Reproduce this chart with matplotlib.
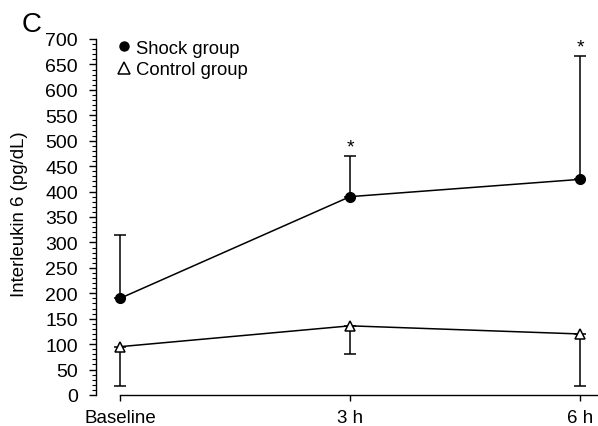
import matplotlib
matplotlib.use("Agg")
import matplotlib.pyplot as plt
from matplotlib.ticker import MultipleLocator
from matplotlib.lines import Line2D

plt.rcParams['font.family'] = ['Liberation Sans', 'DejaVu Sans']

categories = ["Baseline", "3 h", "6 h"]
shock_mean = [190, 390, 424]
shock_err_up = [125, 79, 242]
control_mean = [95, 136, 120]
control_err_down = [77, 55, 103]
significant = ["", "*", "*"]

fig = plt.figure(figsize=(5.98, 4.27), dpi=100)
ax = fig.add_axes([96/598, 1-396/427, 1-96/598, 356/427])

x = list(range(len(categories)))
ax.errorbar(x, shock_mean, yerr=[[0]*3, shock_err_up], color='black', lw=1.1,
            marker='o', ms=7, mfc='black', mec='black', capsize=4, elinewidth=1.1,
            capthick=1.1, zorder=3)
ax.errorbar(x, control_mean, yerr=[control_err_down, [0]*3], color='black', lw=1.1,
            marker='^', ms=7.5, mfc='white', mec='black', mew=1.1, capsize=4,
            elinewidth=1.1, capthick=1.1, zorder=3)

for xi, m, e, s in zip(x, shock_mean, shock_err_up, significant):
    if s:
        ax.text(xi, m + e + 2, s, ha='center', va='bottom', fontsize=14)

ax.set_xlim(-24/230, 2 + 18/230)
ax.set_ylim(0, 700)
ax.yaxis.set_major_locator(MultipleLocator(50))
ax.yaxis.set_minor_locator(MultipleLocator(10))
ax.set_xticks(x)
ax.set_xticklabels(categories, fontsize=13.5)
ax.tick_params(axis='y', which='major', direction='out', length=5, width=1.0, labelsize=14, pad=8)
ax.tick_params(axis='y', which='minor', direction='out', length=3, width=0.8)
ax.tick_params(axis='x', which='major', direction='out', length=4, width=1.0, pad=6)

for sp in ['top', 'right']:
    ax.spines[sp].set_visible(False)
ax.spines['left'].set_bounds(0, 700)
ax.spines['bottom'].set_bounds(0, 2 + 18/230)
ax.spines['left'].set_linewidth(1.0)
ax.spines['bottom'].set_linewidth(1.0)

ax.set_ylabel("Interleukin 6 (pg/dL)", fontsize=13.4)
ax.yaxis.set_label_coords(-0.135, 0.51)

handles = [Line2D([], [], ls='none', marker='o', ms=6.5, mfc='black', mec='black'),
           Line2D([], [], ls='none', marker='^', ms=8.5, mfc='white', mec='black', mew=1.1)]
ax.legend(handles, ['Shock group', 'Control group'], loc='upper left',
          bbox_to_anchor=(0.007, 1.045), frameon=False, fontsize=13.3,
          handlelength=0.8, handletextpad=0.3, labelspacing=0.25)

fig.text(22/598, 1-25/427, "C", fontsize=20, va='center', ha='left')

fig.savefig("out.png", dpi=100)
